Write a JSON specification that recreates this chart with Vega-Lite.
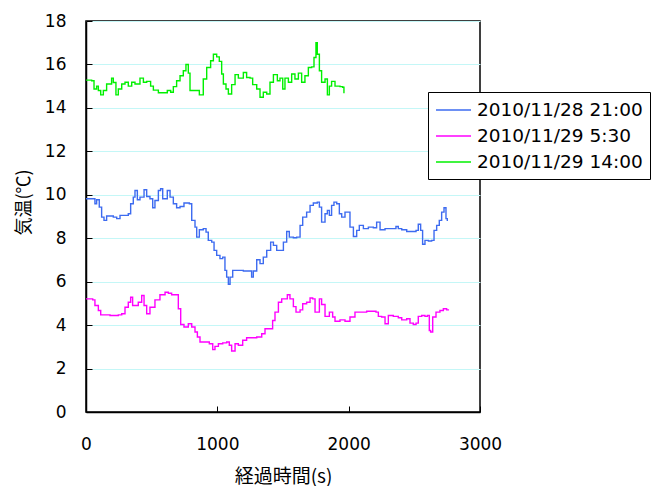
{
  "$schema": "https://vega.github.io/schema/vega-lite/v6.json",
  "autosize": "none",
  "width": 394,
  "height": 391,
  "padding": {"left": 86, "top": 21, "right": 171, "bottom": 74},
  "background": "white",
  "config": {
    "view": {"stroke": "black", "strokeWidth": 1.5},
    "font": "Noto Sans CJK JP"
  },
  "data": {
    "values": [
      {"t": 0, "v": 9.82, "s": "2010/11/28 21:00"},
      {"t": 51, "v": 9.82, "s": "2010/11/28 21:00"},
      {"t": 68, "v": 9.59, "s": "2010/11/28 21:00"},
      {"t": 81, "v": 9.77, "s": "2010/11/28 21:00"},
      {"t": 101, "v": 9.43, "s": "2010/11/28 21:00"},
      {"t": 119, "v": 8.97, "s": "2010/11/28 21:00"},
      {"t": 137, "v": 8.82, "s": "2010/11/28 21:00"},
      {"t": 157, "v": 9.02, "s": "2010/11/28 21:00"},
      {"t": 208, "v": 8.97, "s": "2010/11/28 21:00"},
      {"t": 234, "v": 8.9, "s": "2010/11/28 21:00"},
      {"t": 259, "v": 9.05, "s": "2010/11/28 21:00"},
      {"t": 297, "v": 9.05, "s": "2010/11/28 21:00"},
      {"t": 322, "v": 9.13, "s": "2010/11/28 21:00"},
      {"t": 340, "v": 9.59, "s": "2010/11/28 21:00"},
      {"t": 360, "v": 9.89, "s": "2010/11/28 21:00"},
      {"t": 373, "v": 10.2, "s": "2010/11/28 21:00"},
      {"t": 391, "v": 9.77, "s": "2010/11/28 21:00"},
      {"t": 411, "v": 9.89, "s": "2010/11/28 21:00"},
      {"t": 442, "v": 10.23, "s": "2010/11/28 21:00"},
      {"t": 462, "v": 9.92, "s": "2010/11/28 21:00"},
      {"t": 487, "v": 9.82, "s": "2010/11/28 21:00"},
      {"t": 508, "v": 9.4, "s": "2010/11/28 21:00"},
      {"t": 525, "v": 9.74, "s": "2010/11/28 21:00"},
      {"t": 551, "v": 10.2, "s": "2010/11/28 21:00"},
      {"t": 568, "v": 10.28, "s": "2010/11/28 21:00"},
      {"t": 584, "v": 9.82, "s": "2010/11/28 21:00"},
      {"t": 602, "v": 9.82, "s": "2010/11/28 21:00"},
      {"t": 619, "v": 10.2, "s": "2010/11/28 21:00"},
      {"t": 640, "v": 9.89, "s": "2010/11/28 21:00"},
      {"t": 665, "v": 9.59, "s": "2010/11/28 21:00"},
      {"t": 690, "v": 9.4, "s": "2010/11/28 21:00"},
      {"t": 716, "v": 9.46, "s": "2010/11/28 21:00"},
      {"t": 746, "v": 9.62, "s": "2010/11/28 21:00"},
      {"t": 787, "v": 9.59, "s": "2010/11/28 21:00"},
      {"t": 805, "v": 8.82, "s": "2010/11/28 21:00"},
      {"t": 830, "v": 8.51, "s": "2010/11/28 21:00"},
      {"t": 843, "v": 8.05, "s": "2010/11/28 21:00"},
      {"t": 863, "v": 8.39, "s": "2010/11/28 21:00"},
      {"t": 893, "v": 8.44, "s": "2010/11/28 21:00"},
      {"t": 914, "v": 8.28, "s": "2010/11/28 21:00"},
      {"t": 931, "v": 7.9, "s": "2010/11/28 21:00"},
      {"t": 957, "v": 7.82, "s": "2010/11/28 21:00"},
      {"t": 975, "v": 7.44, "s": "2010/11/28 21:00"},
      {"t": 995, "v": 7.21, "s": "2010/11/28 21:00"},
      {"t": 1020, "v": 7.06, "s": "2010/11/28 21:00"},
      {"t": 1041, "v": 7.13, "s": "2010/11/28 21:00"},
      {"t": 1058, "v": 6.52, "s": "2010/11/28 21:00"},
      {"t": 1071, "v": 6.21, "s": "2010/11/28 21:00"},
      {"t": 1084, "v": 5.88, "s": "2010/11/28 21:00"},
      {"t": 1097, "v": 6.21, "s": "2010/11/28 21:00"},
      {"t": 1117, "v": 6.52, "s": "2010/11/28 21:00"},
      {"t": 1147, "v": 6.52, "s": "2010/11/28 21:00"},
      {"t": 1198, "v": 6.49, "s": "2010/11/28 21:00"},
      {"t": 1236, "v": 6.49, "s": "2010/11/28 21:00"},
      {"t": 1261, "v": 6.21, "s": "2010/11/28 21:00"},
      {"t": 1274, "v": 6.49, "s": "2010/11/28 21:00"},
      {"t": 1300, "v": 7.01, "s": "2010/11/28 21:00"},
      {"t": 1325, "v": 6.83, "s": "2010/11/28 21:00"},
      {"t": 1350, "v": 7.13, "s": "2010/11/28 21:00"},
      {"t": 1376, "v": 7.44, "s": "2010/11/28 21:00"},
      {"t": 1406, "v": 7.82, "s": "2010/11/28 21:00"},
      {"t": 1427, "v": 7.67, "s": "2010/11/28 21:00"},
      {"t": 1452, "v": 7.44, "s": "2010/11/28 21:00"},
      {"t": 1477, "v": 7.44, "s": "2010/11/28 21:00"},
      {"t": 1503, "v": 7.82, "s": "2010/11/28 21:00"},
      {"t": 1528, "v": 8.31, "s": "2010/11/28 21:00"},
      {"t": 1548, "v": 8.05, "s": "2010/11/28 21:00"},
      {"t": 1579, "v": 8.02, "s": "2010/11/28 21:00"},
      {"t": 1604, "v": 8.05, "s": "2010/11/28 21:00"},
      {"t": 1630, "v": 8.59, "s": "2010/11/28 21:00"},
      {"t": 1650, "v": 8.97, "s": "2010/11/28 21:00"},
      {"t": 1680, "v": 9.2, "s": "2010/11/28 21:00"},
      {"t": 1706, "v": 9.51, "s": "2010/11/28 21:00"},
      {"t": 1731, "v": 9.62, "s": "2010/11/28 21:00"},
      {"t": 1761, "v": 9.66, "s": "2010/11/28 21:00"},
      {"t": 1777, "v": 9.43, "s": "2010/11/28 21:00"},
      {"t": 1794, "v": 8.74, "s": "2010/11/28 21:00"},
      {"t": 1820, "v": 9.13, "s": "2010/11/28 21:00"},
      {"t": 1838, "v": 9.28, "s": "2010/11/28 21:00"},
      {"t": 1853, "v": 9.05, "s": "2010/11/28 21:00"},
      {"t": 1870, "v": 9.51, "s": "2010/11/28 21:00"},
      {"t": 1888, "v": 9.66, "s": "2010/11/28 21:00"},
      {"t": 1909, "v": 9.59, "s": "2010/11/28 21:00"},
      {"t": 1929, "v": 9.13, "s": "2010/11/28 21:00"},
      {"t": 1947, "v": 8.97, "s": "2010/11/28 21:00"},
      {"t": 1972, "v": 9.2, "s": "2010/11/28 21:00"},
      {"t": 1990, "v": 9.2, "s": "2010/11/28 21:00"},
      {"t": 2010, "v": 8.51, "s": "2010/11/28 21:00"},
      {"t": 2036, "v": 8.08, "s": "2010/11/28 21:00"},
      {"t": 2061, "v": 8.36, "s": "2010/11/28 21:00"},
      {"t": 2081, "v": 8.59, "s": "2010/11/28 21:00"},
      {"t": 2112, "v": 8.44, "s": "2010/11/28 21:00"},
      {"t": 2150, "v": 8.51, "s": "2010/11/28 21:00"},
      {"t": 2188, "v": 8.48, "s": "2010/11/28 21:00"},
      {"t": 2213, "v": 8.74, "s": "2010/11/28 21:00"},
      {"t": 2239, "v": 8.39, "s": "2010/11/28 21:00"},
      {"t": 2277, "v": 8.44, "s": "2010/11/28 21:00"},
      {"t": 2315, "v": 8.44, "s": "2010/11/28 21:00"},
      {"t": 2360, "v": 8.54, "s": "2010/11/28 21:00"},
      {"t": 2378, "v": 8.44, "s": "2010/11/28 21:00"},
      {"t": 2404, "v": 8.39, "s": "2010/11/28 21:00"},
      {"t": 2442, "v": 8.31, "s": "2010/11/28 21:00"},
      {"t": 2480, "v": 8.31, "s": "2010/11/28 21:00"},
      {"t": 2513, "v": 8.36, "s": "2010/11/28 21:00"},
      {"t": 2530, "v": 8.64, "s": "2010/11/28 21:00"},
      {"t": 2548, "v": 8.36, "s": "2010/11/28 21:00"},
      {"t": 2563, "v": 7.72, "s": "2010/11/28 21:00"},
      {"t": 2581, "v": 7.9, "s": "2010/11/28 21:00"},
      {"t": 2607, "v": 7.87, "s": "2010/11/28 21:00"},
      {"t": 2632, "v": 7.9, "s": "2010/11/28 21:00"},
      {"t": 2650, "v": 8.36, "s": "2010/11/28 21:00"},
      {"t": 2670, "v": 8.59, "s": "2010/11/28 21:00"},
      {"t": 2690, "v": 8.82, "s": "2010/11/28 21:00"},
      {"t": 2708, "v": 9.2, "s": "2010/11/28 21:00"},
      {"t": 2726, "v": 9.4, "s": "2010/11/28 21:00"},
      {"t": 2741, "v": 8.9, "s": "2010/11/28 21:00"},
      {"t": 2751, "v": 8.79, "s": "2010/11/28 21:00"},

      {"t": 0, "v": 5.21, "s": "2010/11/29 5:30"},
      {"t": 51, "v": 5.16, "s": "2010/11/29 5:30"},
      {"t": 68, "v": 4.9, "s": "2010/11/29 5:30"},
      {"t": 94, "v": 4.67, "s": "2010/11/29 5:30"},
      {"t": 112, "v": 4.47, "s": "2010/11/29 5:30"},
      {"t": 145, "v": 4.47, "s": "2010/11/29 5:30"},
      {"t": 183, "v": 4.44, "s": "2010/11/29 5:30"},
      {"t": 208, "v": 4.44, "s": "2010/11/29 5:30"},
      {"t": 246, "v": 4.47, "s": "2010/11/29 5:30"},
      {"t": 272, "v": 4.52, "s": "2010/11/29 5:30"},
      {"t": 297, "v": 4.82, "s": "2010/11/29 5:30"},
      {"t": 322, "v": 5.05, "s": "2010/11/29 5:30"},
      {"t": 340, "v": 5.28, "s": "2010/11/29 5:30"},
      {"t": 355, "v": 4.9, "s": "2010/11/29 5:30"},
      {"t": 373, "v": 4.9, "s": "2010/11/29 5:30"},
      {"t": 398, "v": 5.05, "s": "2010/11/29 5:30"},
      {"t": 424, "v": 5.36, "s": "2010/11/29 5:30"},
      {"t": 442, "v": 4.9, "s": "2010/11/29 5:30"},
      {"t": 462, "v": 4.52, "s": "2010/11/29 5:30"},
      {"t": 487, "v": 4.82, "s": "2010/11/29 5:30"},
      {"t": 525, "v": 5.16, "s": "2010/11/29 5:30"},
      {"t": 563, "v": 5.4, "s": "2010/11/29 5:30"},
      {"t": 602, "v": 5.51, "s": "2010/11/29 5:30"},
      {"t": 627, "v": 5.47, "s": "2010/11/29 5:30"},
      {"t": 652, "v": 5.4, "s": "2010/11/29 5:30"},
      {"t": 690, "v": 5.4, "s": "2010/11/29 5:30"},
      {"t": 703, "v": 4.75, "s": "2010/11/29 5:30"},
      {"t": 721, "v": 4.03, "s": "2010/11/29 5:30"},
      {"t": 746, "v": 3.91, "s": "2010/11/29 5:30"},
      {"t": 779, "v": 4.06, "s": "2010/11/29 5:30"},
      {"t": 805, "v": 3.91, "s": "2010/11/29 5:30"},
      {"t": 830, "v": 3.68, "s": "2010/11/29 5:30"},
      {"t": 848, "v": 3.45, "s": "2010/11/29 5:30"},
      {"t": 868, "v": 3.22, "s": "2010/11/29 5:30"},
      {"t": 906, "v": 3.22, "s": "2010/11/29 5:30"},
      {"t": 939, "v": 3.14, "s": "2010/11/29 5:30"},
      {"t": 965, "v": 2.87, "s": "2010/11/29 5:30"},
      {"t": 982, "v": 3.02, "s": "2010/11/29 5:30"},
      {"t": 1008, "v": 3.14, "s": "2010/11/29 5:30"},
      {"t": 1041, "v": 3.18, "s": "2010/11/29 5:30"},
      {"t": 1071, "v": 3.22, "s": "2010/11/29 5:30"},
      {"t": 1091, "v": 3.07, "s": "2010/11/29 5:30"},
      {"t": 1109, "v": 2.81, "s": "2010/11/29 5:30"},
      {"t": 1135, "v": 3.14, "s": "2010/11/29 5:30"},
      {"t": 1160, "v": 3.07, "s": "2010/11/29 5:30"},
      {"t": 1193, "v": 3.3, "s": "2010/11/29 5:30"},
      {"t": 1223, "v": 3.42, "s": "2010/11/29 5:30"},
      {"t": 1261, "v": 3.42, "s": "2010/11/29 5:30"},
      {"t": 1300, "v": 3.45, "s": "2010/11/29 5:30"},
      {"t": 1338, "v": 3.6, "s": "2010/11/29 5:30"},
      {"t": 1363, "v": 3.83, "s": "2010/11/29 5:30"},
      {"t": 1401, "v": 3.83, "s": "2010/11/29 5:30"},
      {"t": 1421, "v": 4.21, "s": "2010/11/29 5:30"},
      {"t": 1439, "v": 4.6, "s": "2010/11/29 5:30"},
      {"t": 1465, "v": 5.05, "s": "2010/11/29 5:30"},
      {"t": 1490, "v": 5.21, "s": "2010/11/29 5:30"},
      {"t": 1515, "v": 5.21, "s": "2010/11/29 5:30"},
      {"t": 1533, "v": 5.4, "s": "2010/11/29 5:30"},
      {"t": 1553, "v": 5.21, "s": "2010/11/29 5:30"},
      {"t": 1579, "v": 4.85, "s": "2010/11/29 5:30"},
      {"t": 1599, "v": 4.6, "s": "2010/11/29 5:30"},
      {"t": 1630, "v": 4.7, "s": "2010/11/29 5:30"},
      {"t": 1650, "v": 4.98, "s": "2010/11/29 5:30"},
      {"t": 1680, "v": 5.05, "s": "2010/11/29 5:30"},
      {"t": 1706, "v": 5.25, "s": "2010/11/29 5:30"},
      {"t": 1726, "v": 5.21, "s": "2010/11/29 5:30"},
      {"t": 1744, "v": 4.6, "s": "2010/11/29 5:30"},
      {"t": 1761, "v": 4.6, "s": "2010/11/29 5:30"},
      {"t": 1777, "v": 5.21, "s": "2010/11/29 5:30"},
      {"t": 1794, "v": 4.95, "s": "2010/11/29 5:30"},
      {"t": 1820, "v": 4.4, "s": "2010/11/29 5:30"},
      {"t": 1853, "v": 4.6, "s": "2010/11/29 5:30"},
      {"t": 1878, "v": 4.37, "s": "2010/11/29 5:30"},
      {"t": 1896, "v": 4.18, "s": "2010/11/29 5:30"},
      {"t": 1934, "v": 4.24, "s": "2010/11/29 5:30"},
      {"t": 1972, "v": 4.18, "s": "2010/11/29 5:30"},
      {"t": 2010, "v": 4.37, "s": "2010/11/29 5:30"},
      {"t": 2048, "v": 4.6, "s": "2010/11/29 5:30"},
      {"t": 2086, "v": 4.6, "s": "2010/11/29 5:30"},
      {"t": 2137, "v": 4.64, "s": "2010/11/29 5:30"},
      {"t": 2175, "v": 4.64, "s": "2010/11/29 5:30"},
      {"t": 2208, "v": 4.6, "s": "2010/11/29 5:30"},
      {"t": 2226, "v": 4.4, "s": "2010/11/29 5:30"},
      {"t": 2251, "v": 4.37, "s": "2010/11/29 5:30"},
      {"t": 2277, "v": 4.06, "s": "2010/11/29 5:30"},
      {"t": 2302, "v": 4.44, "s": "2010/11/29 5:30"},
      {"t": 2340, "v": 4.4, "s": "2010/11/29 5:30"},
      {"t": 2378, "v": 4.34, "s": "2010/11/29 5:30"},
      {"t": 2404, "v": 4.24, "s": "2010/11/29 5:30"},
      {"t": 2442, "v": 4.29, "s": "2010/11/29 5:30"},
      {"t": 2467, "v": 4.09, "s": "2010/11/29 5:30"},
      {"t": 2492, "v": 4.03, "s": "2010/11/29 5:30"},
      {"t": 2513, "v": 4.09, "s": "2010/11/29 5:30"},
      {"t": 2530, "v": 4.4, "s": "2010/11/29 5:30"},
      {"t": 2556, "v": 4.44, "s": "2010/11/29 5:30"},
      {"t": 2581, "v": 4.4, "s": "2010/11/29 5:30"},
      {"t": 2599, "v": 4.44, "s": "2010/11/29 5:30"},
      {"t": 2614, "v": 3.75, "s": "2010/11/29 5:30"},
      {"t": 2624, "v": 3.68, "s": "2010/11/29 5:30"},
      {"t": 2640, "v": 4.37, "s": "2010/11/29 5:30"},
      {"t": 2665, "v": 4.6, "s": "2010/11/29 5:30"},
      {"t": 2695, "v": 4.67, "s": "2010/11/29 5:30"},
      {"t": 2721, "v": 4.75, "s": "2010/11/29 5:30"},
      {"t": 2746, "v": 4.7, "s": "2010/11/29 5:30"},
      {"t": 2759, "v": 4.67, "s": "2010/11/29 5:30"},

      {"t": 0, "v": 15.28, "s": "2010/11/29 14:00"},
      {"t": 43, "v": 15.25, "s": "2010/11/29 14:00"},
      {"t": 61, "v": 14.87, "s": "2010/11/29 14:00"},
      {"t": 81, "v": 15.0, "s": "2010/11/29 14:00"},
      {"t": 94, "v": 14.8, "s": "2010/11/29 14:00"},
      {"t": 112, "v": 14.6, "s": "2010/11/29 14:00"},
      {"t": 132, "v": 14.8, "s": "2010/11/29 14:00"},
      {"t": 157, "v": 15.1, "s": "2010/11/29 14:00"},
      {"t": 195, "v": 15.37, "s": "2010/11/29 14:00"},
      {"t": 208, "v": 15.17, "s": "2010/11/29 14:00"},
      {"t": 228, "v": 14.6, "s": "2010/11/29 14:00"},
      {"t": 246, "v": 14.87, "s": "2010/11/29 14:00"},
      {"t": 272, "v": 15.1, "s": "2010/11/29 14:00"},
      {"t": 297, "v": 15.18, "s": "2010/11/29 14:00"},
      {"t": 322, "v": 15.0, "s": "2010/11/29 14:00"},
      {"t": 348, "v": 15.18, "s": "2010/11/29 14:00"},
      {"t": 373, "v": 15.1, "s": "2010/11/29 14:00"},
      {"t": 411, "v": 15.37, "s": "2010/11/29 14:00"},
      {"t": 437, "v": 15.18, "s": "2010/11/29 14:00"},
      {"t": 462, "v": 15.22, "s": "2010/11/29 14:00"},
      {"t": 492, "v": 15.0, "s": "2010/11/29 14:00"},
      {"t": 513, "v": 14.82, "s": "2010/11/29 14:00"},
      {"t": 551, "v": 14.7, "s": "2010/11/29 14:00"},
      {"t": 589, "v": 14.7, "s": "2010/11/29 14:00"},
      {"t": 619, "v": 14.8, "s": "2010/11/29 14:00"},
      {"t": 645, "v": 14.72, "s": "2010/11/29 14:00"},
      {"t": 665, "v": 14.98, "s": "2010/11/29 14:00"},
      {"t": 690, "v": 15.25, "s": "2010/11/29 14:00"},
      {"t": 716, "v": 15.48, "s": "2010/11/29 14:00"},
      {"t": 741, "v": 15.71, "s": "2010/11/29 14:00"},
      {"t": 761, "v": 16.0, "s": "2010/11/29 14:00"},
      {"t": 779, "v": 15.6, "s": "2010/11/29 14:00"},
      {"t": 792, "v": 14.8, "s": "2010/11/29 14:00"},
      {"t": 830, "v": 14.8, "s": "2010/11/29 14:00"},
      {"t": 863, "v": 14.6, "s": "2010/11/29 14:00"},
      {"t": 893, "v": 15.33, "s": "2010/11/29 14:00"},
      {"t": 919, "v": 15.86, "s": "2010/11/29 14:00"},
      {"t": 949, "v": 16.17, "s": "2010/11/29 14:00"},
      {"t": 970, "v": 16.47, "s": "2010/11/29 14:00"},
      {"t": 995, "v": 16.35, "s": "2010/11/29 14:00"},
      {"t": 1015, "v": 16.14, "s": "2010/11/29 14:00"},
      {"t": 1033, "v": 15.56, "s": "2010/11/29 14:00"},
      {"t": 1046, "v": 15.1, "s": "2010/11/29 14:00"},
      {"t": 1066, "v": 14.87, "s": "2010/11/29 14:00"},
      {"t": 1084, "v": 14.64, "s": "2010/11/29 14:00"},
      {"t": 1109, "v": 15.07, "s": "2010/11/29 14:00"},
      {"t": 1135, "v": 15.53, "s": "2010/11/29 14:00"},
      {"t": 1160, "v": 15.37, "s": "2010/11/29 14:00"},
      {"t": 1198, "v": 15.63, "s": "2010/11/29 14:00"},
      {"t": 1223, "v": 15.4, "s": "2010/11/29 14:00"},
      {"t": 1249, "v": 15.37, "s": "2010/11/29 14:00"},
      {"t": 1269, "v": 15.07, "s": "2010/11/29 14:00"},
      {"t": 1300, "v": 14.87, "s": "2010/11/29 14:00"},
      {"t": 1325, "v": 14.49, "s": "2010/11/29 14:00"},
      {"t": 1350, "v": 14.72, "s": "2010/11/29 14:00"},
      {"t": 1376, "v": 14.64, "s": "2010/11/29 14:00"},
      {"t": 1401, "v": 15.18, "s": "2010/11/29 14:00"},
      {"t": 1427, "v": 15.53, "s": "2010/11/29 14:00"},
      {"t": 1457, "v": 15.25, "s": "2010/11/29 14:00"},
      {"t": 1477, "v": 15.37, "s": "2010/11/29 14:00"},
      {"t": 1498, "v": 14.87, "s": "2010/11/29 14:00"},
      {"t": 1515, "v": 15.37, "s": "2010/11/29 14:00"},
      {"t": 1541, "v": 15.18, "s": "2010/11/29 14:00"},
      {"t": 1566, "v": 15.56, "s": "2010/11/29 14:00"},
      {"t": 1591, "v": 15.33, "s": "2010/11/29 14:00"},
      {"t": 1617, "v": 15.6, "s": "2010/11/29 14:00"},
      {"t": 1642, "v": 15.18, "s": "2010/11/29 14:00"},
      {"t": 1667, "v": 15.48, "s": "2010/11/29 14:00"},
      {"t": 1693, "v": 15.86, "s": "2010/11/29 14:00"},
      {"t": 1718, "v": 15.89, "s": "2010/11/29 14:00"},
      {"t": 1736, "v": 16.32, "s": "2010/11/29 14:00"},
      {"t": 1751, "v": 17.0, "s": "2010/11/29 14:00"},
      {"t": 1761, "v": 16.47, "s": "2010/11/29 14:00"},
      {"t": 1777, "v": 15.71, "s": "2010/11/29 14:00"},
      {"t": 1794, "v": 15.18, "s": "2010/11/29 14:00"},
      {"t": 1820, "v": 15.33, "s": "2010/11/29 14:00"},
      {"t": 1838, "v": 14.6, "s": "2010/11/29 14:00"},
      {"t": 1853, "v": 15.0, "s": "2010/11/29 14:00"},
      {"t": 1870, "v": 15.22, "s": "2010/11/29 14:00"},
      {"t": 1896, "v": 15.0, "s": "2010/11/29 14:00"},
      {"t": 1934, "v": 14.98, "s": "2010/11/29 14:00"},
      {"t": 1954, "v": 14.95, "s": "2010/11/29 14:00"},
      {"t": 1964, "v": 14.67, "s": "2010/11/29 14:00"}
    ]
  },
  "mark": {"type": "line", "strokeWidth": 1.4, "clip": true, "interpolate": "step-after"},
  "encoding": {
    "x": {
      "field": "t",
      "type": "quantitative",
      "scale": {"domain": [0, 3000], "nice": false},
      "axis": {
        "title": "経過時間(s)",
        "titleFont": "Noto Sans CJK JP",
        "titleFontSize": 19,
        "titleFontWeight": "normal",
        "titleColor": "black",
        "titlePadding": 15,
        "values": [0, 1000, 2000, 3000],
        "format": "d",
        "labelFont": "DejaVu Sans",
        "labelFontSize": 17,
        "labelColor": "black",
        "labelPadding": 30,
        "labelFlush": false,
        "tickSize": -6,
        "tickColor": "black",
        "domainColor": "black",
        "domainWidth": 1.5,
        "grid": false
      }
    },
    "y": {
      "field": "v",
      "type": "quantitative",
      "scale": {"domain": [0, 18], "nice": false},
      "axis": {
        "title": "気温(℃)",
        "titleFont": "Noto Sans CJK JP",
        "titleFontSize": 18,
        "titleFontWeight": "normal",
        "titleColor": "black",
        "titleX": -53,
        "titleY": 181,
        "values": [0, 2, 4, 6, 8, 10, 12, 14, 16, 18],
        "labelFont": "DejaVu Sans",
        "labelFontSize": 17,
        "labelColor": "black",
        "labelPadding": 26,
        "labelFlush": false,
        "tickSize": -6,
        "tickColor": "black",
        "domainColor": "black",
        "domainWidth": 1.5,
        "grid": true,
        "gridColor": "#c4f7f7",
        "gridWidth": 1
      }
    },
    "color": {
      "field": "s",
      "type": "nominal",
      "scale": {
        "domain": ["2010/11/28 21:00", "2010/11/29 5:30", "2010/11/29 14:00"],
        "range": ["#3d6bf0", "#ff00ff", "#00f000"]
      },
      "legend": {
        "title": null,
        "orient": "none",
        "legendX": 342,
        "legendY": 71,
        "symbolType": "M-1,0H2.5",
        "symbolSize": 400,
        "symbolStrokeWidth": 1.3,
        "labelFont": "DejaVu Sans",
        "labelFontSize": 18.5,
        "labelColor": "black",
        "labelOffset": 20,
        "labelLimit": 300,
        "rowPadding": 5,
        "padding": 7,
        "strokeColor": "black",
        "fillColor": "white"
      }
    }
  }
}
